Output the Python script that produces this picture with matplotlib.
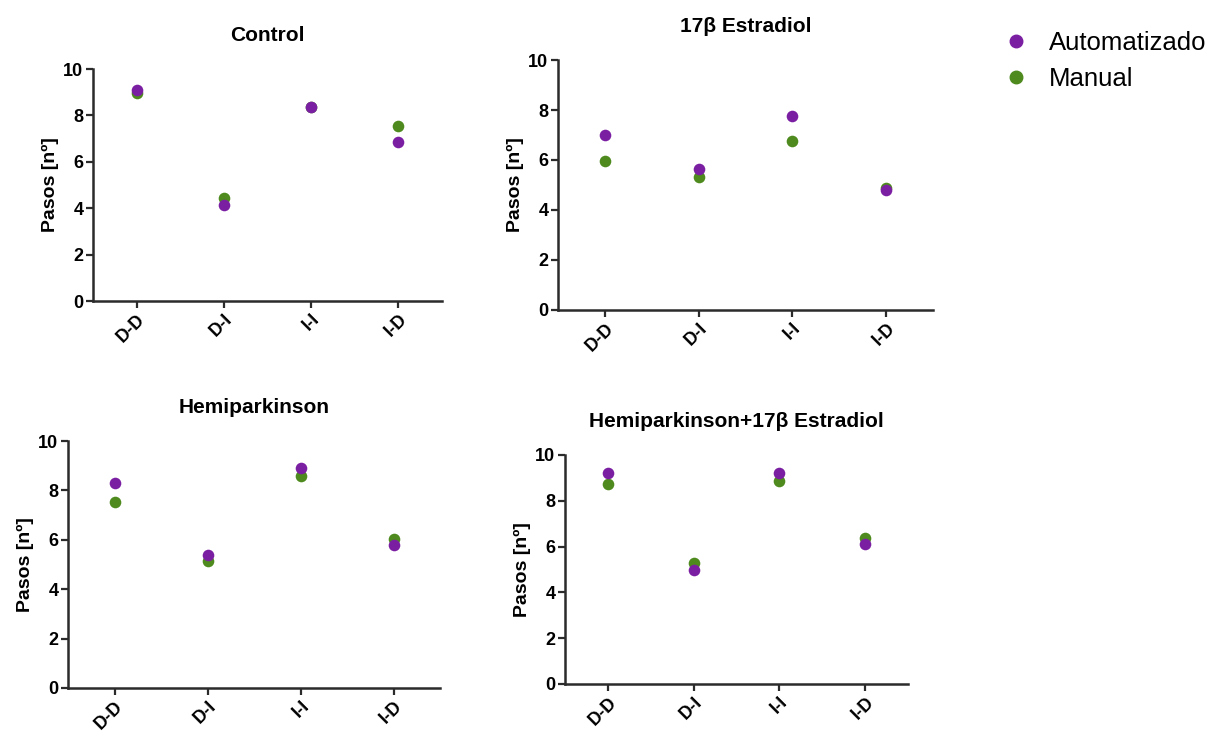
import matplotlib
matplotlib.use("Agg")
import matplotlib.pyplot as plt
from matplotlib.lines import Line2D

plt.rcParams['font.family'] = ['Liberation Sans', 'DejaVu Sans']

# datos
categorias = ["D-D", "D-I", "I-I", "I-D"]
titulos = ["Control", "17β Estradiol", "Hemiparkinson", "Hemiparkinson+17β Estradiol"]

auto_control = [9.1, 4.13, 8.36, 6.86]
manual_control = [8.96, 4.46, 8.36, 7.53]

auto_estradiol = [7.0, 5.65, 7.76, 4.8]
manual_estradiol = [5.97, 5.31, 6.77, 4.87]

auto_hemi = [8.30, 5.40, 8.91, 5.80]
manual_hemi = [7.54, 5.15, 8.59, 6.02]

auto_hemi_e = [9.2, 4.98, 9.22, 6.10]
manual_hemi_e = [8.72, 5.27, 8.86, 6.39]

automatizado = [auto_control, auto_estradiol, auto_hemi, auto_hemi_e]
manual = [manual_control, manual_estradiol, manual_hemi, manual_hemi_e]

morado = '#7B1FA2'
verde = '#4E8A1E'
gris = '#2b2b2b'

W, H = 1221, 734
fig = plt.figure(figsize=(W / 100, H / 100), dpi=100)

# cajas de los ejes en pixeles: izq, arriba, der, abajo
cajas = [(93, 69, 442, 301), (558, 60, 933, 310),
         (68, 441, 440, 688), (565, 455, 908, 684)]

x = list(range(1, len(categorias) + 1))
for caja, titulo, a, m in zip(cajas, titulos, automatizado, manual):
    l, t, r, b = caja
    ax = fig.add_axes([l / W, 1 - b / H, (r - l) / W, (b - t) / H])
    ax.scatter(x, m, s=70, color=verde, zorder=3, linewidths=0)
    ax.scatter(x, a, s=70, color=morado, zorder=4, linewidths=0)
    ax.set_xlim(0.5, 4.5)
    ax.set_ylim(0, 10)
    ax.set_yticks([0, 2, 4, 6, 8, 10])
    ax.set_xticks(x)
    ax.set_xticklabels(categorias, rotation=45, ha='right', rotation_mode='anchor',
                       fontsize=13, fontweight='bold')
    for lab in ax.get_yticklabels():
        lab.set_fontsize(13)
        lab.set_fontweight('bold')
    ax.spines['top'].set_visible(False)
    ax.spines['right'].set_visible(False)
    for s in ['left', 'bottom']:
        ax.spines[s].set_linewidth(1.8)
        ax.spines[s].set_color(gris)
    ax.tick_params(width=1.6, length=5, color=gris, pad=2)
    ax.set_ylabel("Pasos [nº]", fontsize=14, fontweight='bold', labelpad=3)
    ax.set_title(titulo, fontsize=15, fontweight='bold', pad=20)

handles = [Line2D([], [], marker='o', linestyle='', color=morado, markersize=9),
           Line2D([], [], marker='o', linestyle='', color=verde, markersize=9)]
fig.legend(handles, ["Automatizado", "Manual"], loc='upper left',
           bbox_to_anchor=(977 / W, 1 - 8 / H), frameon=False, fontsize=18.5,
           handletextpad=0.7, labelspacing=0.45, handlelength=1.2)

fig.savefig("out.png", dpi=100)
